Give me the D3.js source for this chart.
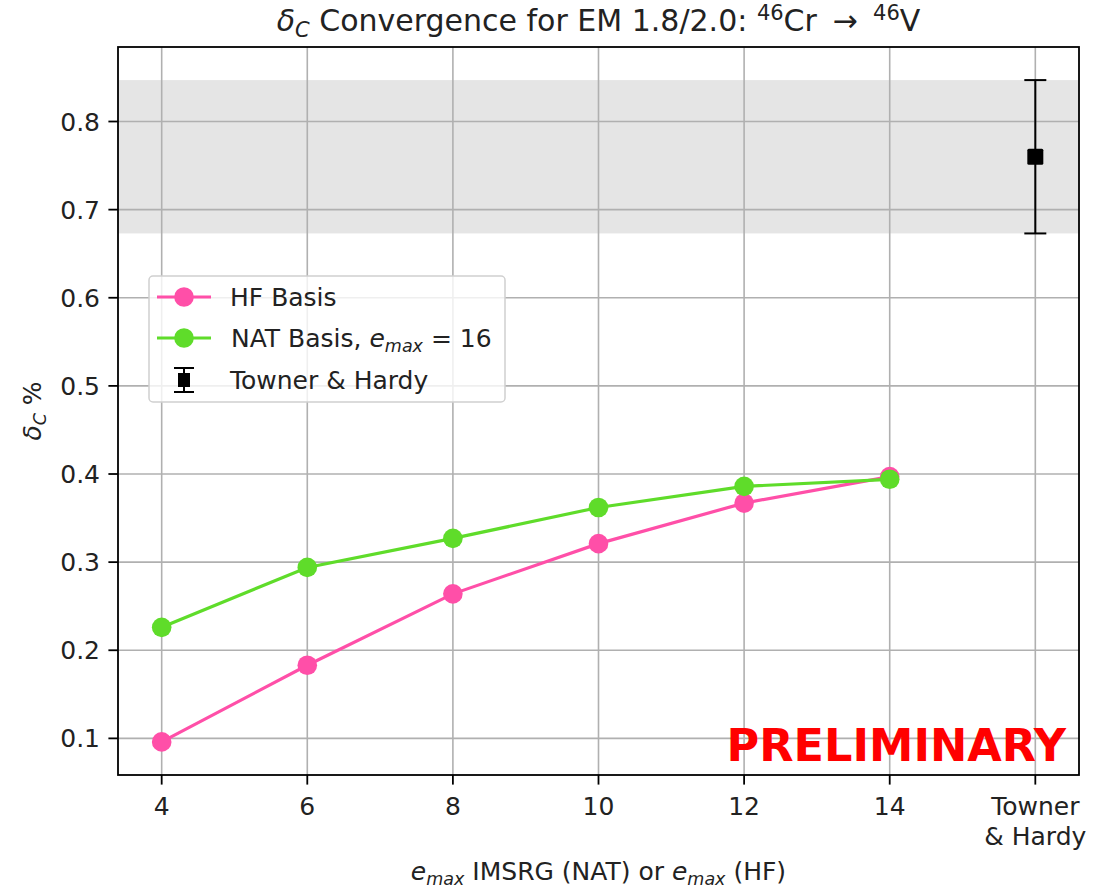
<!DOCTYPE html>
<html>
<head>
<meta charset="utf-8">
<script src="https://cdn.jsdelivr.net/npm/d3@7"></script>
<style>
  html, body { margin: 0; padding: 0; background: #fff; }
  svg { display: block; font-family: "DejaVu Sans", sans-serif; }
</style>
</head>
<body>
<svg id="chart" width="1097" height="888"></svg>
<script>
// ---- data ----
const emax = [4, 6, 8, 10, 12, 14];
const hfBasis = [0.096, 0.183, 0.264, 0.321, 0.367, 0.397];
const natBasis = [0.226, 0.294, 0.327, 0.362, 0.386, 0.394];
const townerX = 16;
const townerValue = 0.760;
const townerErr = 0.087;
const xTicks = [4, 6, 8, 10, 12, 14, 16];
const xTickLabels = [["4"], ["6"], ["8"], ["10"], ["12"], ["14"], ["Towner", "& Hardy"]];
const yTicks = [0.1, 0.2, 0.3, 0.4, 0.5, 0.6, 0.7, 0.8];
const seriesNames = ["HF Basis", "NAT Basis", "Towner & Hardy"];

// ---- layout ----
const pLeft = 118, pRight = 1079, pTop = 47, pBottom = 775;
const pink = "#ff4fa8", green = "#5fdc2a";
const svg = d3.select("#chart");

const xmin = d3.min(xTicks), xmax = d3.max(xTicks);
const xm = (xmax - xmin) * 0.05;
const x = d3.scaleLinear().domain([xmin - xm, xmax + xm]).range([pLeft, pRight]);

const allY = hfBasis.concat(natBasis, [townerValue - townerErr, townerValue + townerErr]);
const ymin = d3.min(allY), ymax = d3.max(allY);
const ym = (ymax - ymin) * 0.05;
const y = d3.scaleLinear().domain([ymin - ym, ymax + ym]).range([pBottom, pTop]);

// band
svg.append("rect")
  .attr("x", pLeft).attr("width", pRight - pLeft)
  .attr("y", y(townerValue + townerErr))
  .attr("height", y(townerValue - townerErr) - y(townerValue + townerErr))
  .attr("fill", "#e5e5e5");

// grid
const grid = svg.append("g").attr("stroke", "#b0b0b0").attr("stroke-width", 1.6);
xTicks.forEach(t => grid.append("line").attr("x1", x(t)).attr("x2", x(t)).attr("y1", pTop).attr("y2", pBottom));
yTicks.forEach(t => grid.append("line").attr("x1", pLeft).attr("x2", pRight).attr("y1", y(t)).attr("y2", y(t)));

// lines
const line = d3.line().x((d, i) => x(emax[i])).y(d => y(d));
function drawSeries(vals, color) {
  svg.append("path").datum(vals).attr("d", line)
    .attr("fill", "none").attr("stroke", color).attr("stroke-width", 3.2);
  svg.append("g").selectAll("circle").data(vals).join("circle")
    .attr("cx", (d, i) => x(emax[i])).attr("cy", d => y(d)).attr("r", 9.8)
    .attr("fill", color);
}
drawSeries(hfBasis, pink);
drawSeries(natBasis, green);

// error bar
const eb = svg.append("g").attr("stroke", "#000").attr("stroke-width", 2);
const tx = x(townerX);
eb.append("line").attr("x1", tx).attr("x2", tx).attr("y1", y(townerValue + townerErr)).attr("y2", y(townerValue - townerErr));
eb.append("line").attr("x1", tx - 11).attr("x2", tx + 11).attr("y1", y(townerValue + townerErr)).attr("y2", y(townerValue + townerErr));
eb.append("line").attr("x1", tx - 11).attr("x2", tx + 11).attr("y1", y(townerValue - townerErr)).attr("y2", y(townerValue - townerErr));
svg.append("rect").attr("x", tx - 8).attr("y", y(townerValue) - 8).attr("width", 16).attr("height", 16)
  .attr("rx", 1.5).attr("fill", "#000");

// PRELIMINARY
svg.append("text").attr("x", 1066).attr("y", 761).attr("text-anchor", "end")
  .attr("font-size", 44.6).attr("font-weight", "bold").attr("fill", "#ff0000").text("PRELIMINARY");

// spines
svg.append("rect").attr("x", pLeft).attr("y", pTop).attr("width", pRight - pLeft).attr("height", pBottom - pTop)
  .attr("fill", "none").attr("stroke", "#000").attr("stroke-width", 1.8);

// ticks
const tk = svg.append("g").attr("stroke", "#000").attr("stroke-width", 1.8);
xTicks.forEach(t => tk.append("line").attr("x1", x(t)).attr("x2", x(t)).attr("y1", pBottom).attr("y2", pBottom + 9.6));
yTicks.forEach(t => tk.append("line").attr("x1", pLeft - 9.6).attr("x2", pLeft).attr("y1", y(t)).attr("y2", y(t)));

const fs = 25, fsSub = 17.5;
xTicks.forEach((t, i) => {
  const tt = svg.append("text").attr("x", x(t)).attr("y", 815).attr("text-anchor", "middle")
    .attr("font-size", fs).attr("fill", "#222");
  xTickLabels[i].forEach((s, j) => tt.append("tspan").attr("x", x(t)).attr("dy", j === 0 ? 0 : 30).text(s));
});
yTicks.forEach(t => {
  svg.append("text").attr("x", pLeft - 18).attr("y", y(t)).attr("dy", "0.36em").attr("text-anchor", "end")
    .attr("font-size", fs).attr("fill", "#222").text(d3.format(".1f")(t));
});

// axis labels
const xl = svg.append("text").attr("x", (pLeft + pRight) / 2).attr("y", 880).attr("text-anchor", "middle")
  .attr("font-size", fs).attr("fill", "#222");
xl.append("tspan").attr("font-style", "italic").text("e");
xl.append("tspan").attr("font-style", "italic").attr("font-size", fsSub).attr("dy", 5).text("max");
xl.append("tspan").attr("dy", -5).text(" IMSRG (NAT) or ");
xl.append("tspan").attr("font-style", "italic").text("e");
xl.append("tspan").attr("font-style", "italic").attr("font-size", fsSub).attr("dy", 5).text("max");
xl.append("tspan").attr("dy", -5).text(" (HF)");

const yl = svg.append("text").attr("transform", `translate(41,${(pTop + pBottom) / 2}) rotate(-90)`)
  .attr("text-anchor", "middle").attr("font-size", fs).attr("fill", "#222");
yl.append("tspan").attr("font-style", "italic").text("δ");
yl.append("tspan").attr("font-style", "italic").attr("font-size", fsSub).attr("dy", 5).text("C");
yl.append("tspan").attr("dy", -5).text(" %");

// title
const ti = svg.append("text").attr("x", (pLeft + pRight) / 2).attr("y", 31).attr("text-anchor", "middle")
  .attr("font-size", 30).attr("fill", "#222");
ti.append("tspan").attr("font-style", "italic").text("δ");
ti.append("tspan").attr("font-style", "italic").attr("font-size", 21).attr("dy", 6).text("C");
ti.append("tspan").attr("dy", -6).text(" Convergence for EM 1.8/2.0: ");
ti.append("tspan").attr("font-size", 21).attr("dy", -11).text("46");
ti.append("tspan").attr("dy", 11).text("Cr \u2009→\u2009 ");
ti.append("tspan").attr("font-size", 21).attr("dy", -11).text("46");
ti.append("tspan").attr("dy", 11).text("V");

// legend
const lg = svg.append("g");
lg.append("rect").attr("x", 149).attr("y", 276).attr("width", 356).attr("height", 126).attr("rx", 4)
  .attr("fill", "#fff").attr("fill-opacity", 0.8).attr("stroke", "#d0d0d0").attr("stroke-width", 1.5);
const rows = [297, 338, 380];
[[pink, 0], [green, 1]].forEach(([c, i]) => {
  lg.append("line").attr("x1", 157).attr("x2", 211).attr("y1", rows[i]).attr("y2", rows[i])
    .attr("stroke", c).attr("stroke-width", 3.2);
  lg.append("circle").attr("cx", 184).attr("cy", rows[i]).attr("r", 9.8).attr("fill", c);
});
lg.append("text").attr("x", 230).attr("y", rows[0]).attr("dy", "0.36em").attr("font-size", fs).attr("fill", "#222").text(seriesNames[0]);
const l2 = lg.append("text").attr("x", 231).attr("y", rows[1]).attr("dy", "0.36em").attr("font-size", fs).attr("fill", "#222");
l2.append("tspan").text(seriesNames[1] + ", ");
l2.append("tspan").attr("font-style", "italic").text("e");
l2.append("tspan").attr("font-style", "italic").attr("font-size", fsSub).attr("dy", 5).text("max");
l2.append("tspan").attr("dy", -5).text(" = 16");
const eg = lg.append("g").attr("stroke", "#000").attr("stroke-width", 2);
eg.append("line").attr("x1", 184).attr("x2", 184).attr("y1", rows[2] - 12).attr("y2", rows[2] + 12);
eg.append("line").attr("x1", 174).attr("x2", 194).attr("y1", rows[2] - 12).attr("y2", rows[2] - 12);
eg.append("line").attr("x1", 174).attr("x2", 194).attr("y1", rows[2] + 12).attr("y2", rows[2] + 12);
lg.append("rect").attr("x", 178).attr("y", rows[2] - 7).attr("width", 12).attr("height", 14).attr("fill", "#000");
lg.append("text").attr("x", 230).attr("y", rows[2]).attr("dy", "0.36em").attr("font-size", fs).attr("fill", "#222").text(seriesNames[2]);
</script>
</body>
</html>
